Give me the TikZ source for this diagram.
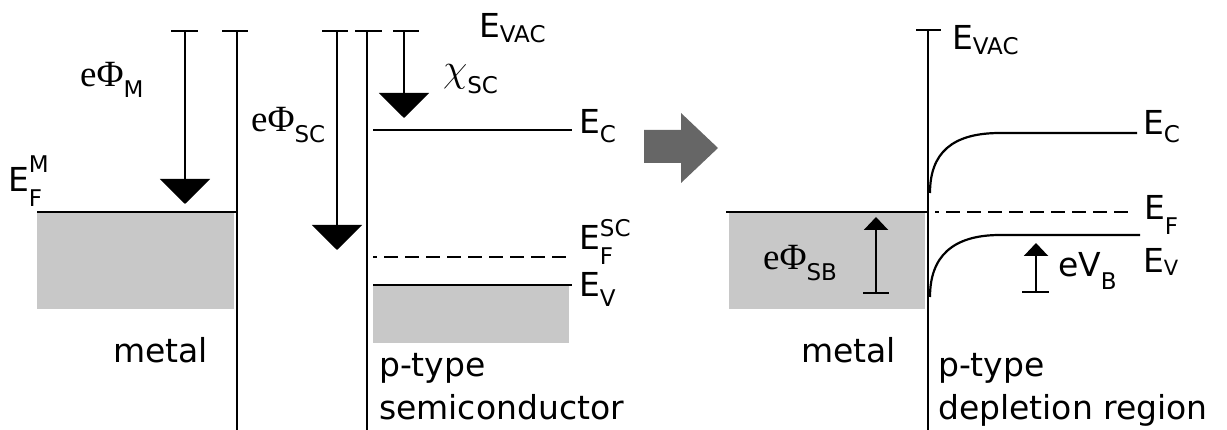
\documentclass[tikz,border=0pt]{standalone}
\usepackage{fontspec}
\setmainfont{DejaVu Sans}
\newfontfamily\serf{Liberation Serif}
\usetikzlibrary{arrows.meta}
\definecolor{bandgray}{RGB}{200,200,200}
\definecolor{arrowgray}{RGB}{102,102,102}
% subscript: [drop]{text}
\newcommand\sbs[2][10pt]{\raisebox{-#1}{\fontsize{23}{23}\selectfont #2}}
% super/sub: {raise}{sup}{drop}{sub}
\newcommand\supsub[4]{{\fontsize{23}{23}\selectfont\rlap{\raisebox{#1}{#2}}\raisebox{-#3}{#4}}}
\newcommand\ephi{{\fontsize{37}{37}\serf eΦ}}
\begin{document}
\begin{tikzpicture}[x=1pt,y=-1pt,line width=2.2pt,
  big/.style={-{Triangle[width=50pt,length=25pt]}},
  small/.style={-{Triangle[width=24pt,length=13pt]}},
  lbl/.style={font=\fontsize{33}{37}\selectfont,inner sep=0pt,anchor=base west},
  fermidash/.style={dash pattern=on 14pt off 7pt,dash phase=10pt}]
\useasboundingbox (0,0) rectangle (1227,430);

% ---------- metal (left) ----------
\fill[bandgray] (37,212) rectangle (234,309);
\draw (37,212) -- (237,212);
\draw (222,31) -- (248,31);
\draw (237,31) -- (237,430);
\draw (171,31) -- (198,31);
\draw[big] (185,31) -- (185,204);
\node[lbl] (phim) at (79,87) {\ephi\sbs[11pt]{M}};
\node[lbl] (efm) at (7,192) {E\supsub{19pt}{M}{15pt}{F}};
\node[lbl] (metal1) at (112,363) {metal};

% ---------- semiconductor ----------
\fill[bandgray] (373,285) rectangle (569,343);
\draw (355,31) -- (382,31);
\draw (367,31) -- (367,430);
\draw (322,31) -- (348,31);
\draw[big] (337,31) -- (337,250);
\draw (393,31) -- (419,31);
\draw[big] (404,31) -- (404,118);
\draw (373,130) -- (572,130);
\draw[fermidash] (373,257) -- (572,257);
\draw (373,285) -- (572,285);
\node[lbl] (evac1) at (478,38) {E\sbs[5pt]{VAC}};
\node[lbl] (chi) at (442,82) {\resizebox{!}{17pt}{$\chi$}\sbs[12pt]{SC}};
\node[lbl] (phisc) at (250,132) {\ephi\sbs[11pt]{SC}};
\node[lbl] (ec1) at (578,134) {E\sbs[9pt]{C}};
\node[lbl] (efsc) at (578,250) {E\supsub{13pt}{SC}{15pt}{F}};
\node[lbl] (ev1) at (578,297) {E\sbs[10pt]{V}};
\node[lbl] (ptype1) at (378,377) {p-type};
\node[lbl] (semi) at (378,420) {semiconductor};

% ---------- transition arrow ----------
\fill[arrowgray] (644,130) -- (681,130) -- (681,113) -- (718,148) -- (681,183) -- (681,163) -- (644,163) -- cycle;

% ---------- junction (right) ----------
\fill[bandgray] (729,212) rectangle (925,309);
\draw (726,212) -- (928,212);
\draw[fermidash] (935,212) -- (1133,212);
\draw (916,30) -- (941,30);
\draw (928,30) -- (928,430);
\draw (930,193) .. controls (930,153) and (952,133) .. (1000,133) -- (1137,133);
\draw (930,297) .. controls (930,257) and (952,235) .. (1000,235) -- (1140,235);
\draw (863,293) -- (889,293);
\draw[small] (876,293) -- (876,217);
\draw (1022,292) -- (1049,292);
\draw[small] (1036,292) -- (1036,243);
\node[lbl] (evac2) at (951,50) {E\sbs[5pt]{VAC}};
\node[lbl] (ec2) at (1142,135) {E\sbs[8pt]{C}};
\node[lbl] (ef2) at (1143,220) {E\sbs[15pt]{F}};
\node[lbl] (ev2) at (1142,273) {E\raisebox{-3pt}{\fontsize{21}{21}\selectfont V}};
\node[lbl] (phisb) at (762,270) {\ephi\sbs[11pt]{SB}};
\node[lbl] (evb) at (1057,277) {eV\sbs[13pt]{B}};
\node[lbl] (metal2) at (800,363) {metal};
\node[lbl] (ptype2) at (937,377) {p-type};
\node[lbl] (depl) at (937,420) {depletion region};
\end{tikzpicture}
\end{document}
